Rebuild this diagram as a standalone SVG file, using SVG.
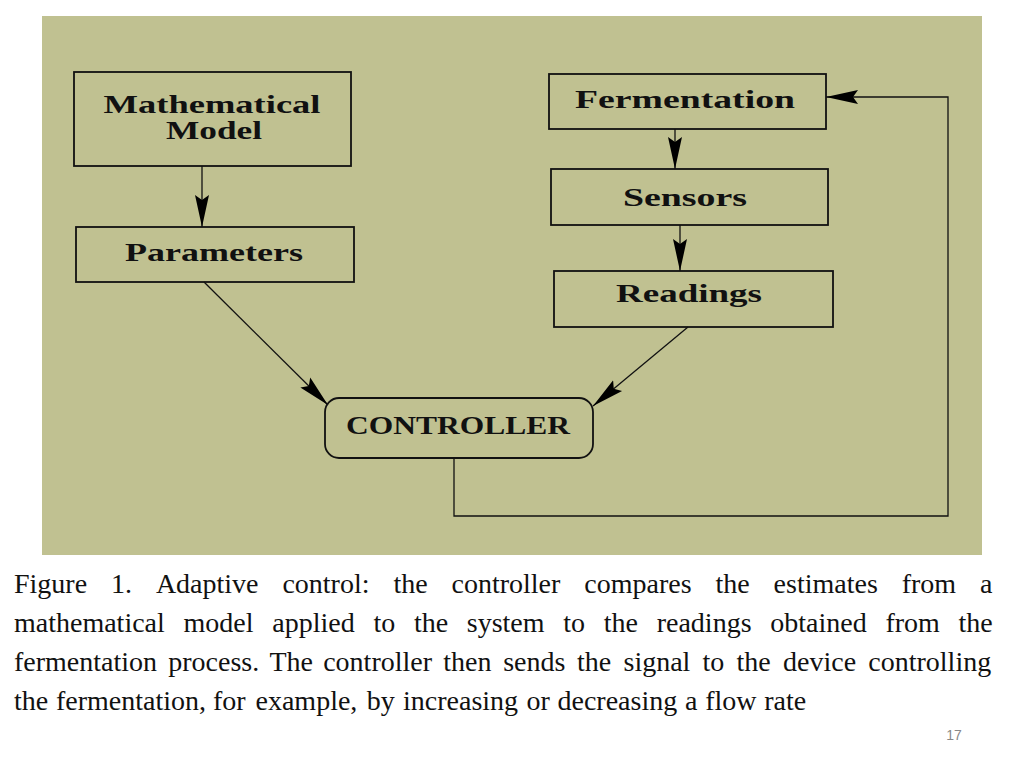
<svg xmlns="http://www.w3.org/2000/svg" width="1024" height="768" viewBox="0 0 1024 768">
  <defs>
    <marker id="arrow" markerUnits="userSpaceOnUse" markerWidth="34" markerHeight="18" refX="32" refY="8" orient="auto">
      <path d="M0,1 L32,8 L0,15 L5,8 z" fill="#000"/>
    </marker>
  </defs>
  <style>
    .box { fill: none; stroke: #111; stroke-width: 1.8; }
    .lbl { font-family: "Liberation Serif", "DejaVu Serif", serif; font-weight: bold; font-size: 25px; fill: #111; }
    .conn { fill: none; stroke: #111; stroke-width: 1.3; }
    .cap { font-family: "Liberation Serif", "Times New Roman", serif; font-size: 28px; fill: #111; }
  </style>
  <rect width="1024" height="768" fill="#ffffff"/>
  <rect x="42" y="16" width="940" height="539" fill="#C0C191"/>

  <g id="connectors">
    <line class="conn" x1="202" y1="166" x2="202" y2="227" marker-end="url(#arrow)"/>
    <line class="conn" x1="675" y1="129" x2="675" y2="169" marker-end="url(#arrow)"/>
    <line class="conn" x1="680" y1="225" x2="680" y2="271" marker-end="url(#arrow)"/>
    <line class="conn" x1="204" y1="282" x2="328" y2="405" marker-end="url(#arrow)"/>
    <line class="conn" x1="688" y1="327" x2="593" y2="406" marker-end="url(#arrow)"/>
    <polyline class="conn" points="454,458 454,516 948,516 948,97 826,97" marker-end="url(#arrow)"/>
  </g>

  <g id="node-model">
    <rect class="box" x="74" y="72" width="277" height="94"/>
    <text class="lbl" x="212" y="113" text-anchor="middle" textLength="217" lengthAdjust="spacingAndGlyphs">Mathematical</text>
    <text class="lbl" x="214" y="139" text-anchor="middle" textLength="96" lengthAdjust="spacingAndGlyphs">Model</text>
  </g>
  <g id="node-parameters">
    <rect class="box" x="76" y="227" width="278" height="55"/>
    <text class="lbl" x="214" y="261" text-anchor="middle" textLength="178" lengthAdjust="spacingAndGlyphs">Parameters</text>
  </g>
  <g id="node-fermentation">
    <rect class="box" x="549" y="74" width="277" height="55"/>
    <text class="lbl" x="685" y="108" text-anchor="middle" textLength="220" lengthAdjust="spacingAndGlyphs">Fermentation</text>
  </g>
  <g id="node-sensors">
    <rect class="box" x="551" y="169" width="277" height="56"/>
    <text class="lbl" x="685" y="206" text-anchor="middle" textLength="124" lengthAdjust="spacingAndGlyphs">Sensors</text>
  </g>
  <g id="node-readings">
    <rect class="box" x="554" y="271" width="279" height="56"/>
    <text class="lbl" x="689" y="302" text-anchor="middle" textLength="146" lengthAdjust="spacingAndGlyphs">Readings</text>
  </g>
  <g id="node-controller">
    <rect class="box" x="325" y="398" width="268" height="60" rx="14" ry="14"/>
    <text class="lbl" x="458" y="434" text-anchor="middle" font-size="23" textLength="224" lengthAdjust="spacingAndGlyphs">CONTROLLER</text>
  </g>

  <g id="caption">
    <text class="cap" y="593"><tspan x="14">Figure</tspan> <tspan x="111">1.</tspan> <tspan x="155.9">Adaptive</tspan> <tspan x="282.4">control:</tspan> <tspan x="393.4">the</tspan> <tspan x="451.5">controller</tspan> <tspan x="584.3">compares</tspan> <tspan x="715.5">the</tspan> <tspan x="773.6">estimates</tspan> <tspan x="901.7">from</tspan> <tspan x="980">a</tspan></text>
    <text class="cap" y="632"><tspan x="14">mathematical</tspan> <tspan x="183.6">model</tspan> <tspan x="272.3">applied</tspan> <tspan x="373.4">to</tspan> <tspan x="413.9">the</tspan> <tspan x="466.8">system</tspan> <tspan x="563.3">to</tspan> <tspan x="603.8">the</tspan> <tspan x="656.7">readings</tspan> <tspan x="770.3">obtained</tspan> <tspan x="885.4">from</tspan> <tspan x="958.5">the</tspan></text>
    <text class="cap" y="671"><tspan x="14">fermentation</tspan> <tspan x="168.3">process.</tspan> <tspan x="269.5">The</tspan> <tspan x="323.2">controller</tspan> <tspan x="443.3">then</tspan> <tspan x="503.2">sends</tspan> <tspan x="577.1">the</tspan> <tspan x="623.5">signal</tspan> <tspan x="702.6">to</tspan> <tspan x="736.6">the</tspan> <tspan x="783">device</tspan> <tspan x="868.3">controlling</tspan></text>
    <text class="cap" y="710"><tspan x="14">the</tspan> <tspan x="56">fermentation,</tspan> <tspan x="212.9">for</tspan> <tspan x="255.5">example,</tspan> <tspan x="366.7">by</tspan> <tspan x="403">increasing</tspan> <tspan x="526.4">or</tspan> <tspan x="557.5">decreasing</tspan> <tspan x="685">a</tspan> <tspan x="705.2">flow</tspan> <tspan x="764.3">rate</tspan></text>
  </g>
  <text x="954" y="740" text-anchor="middle" font-family="Liberation Sans, Arial, sans-serif" font-size="14" fill="#888888">17</text>
</svg>
